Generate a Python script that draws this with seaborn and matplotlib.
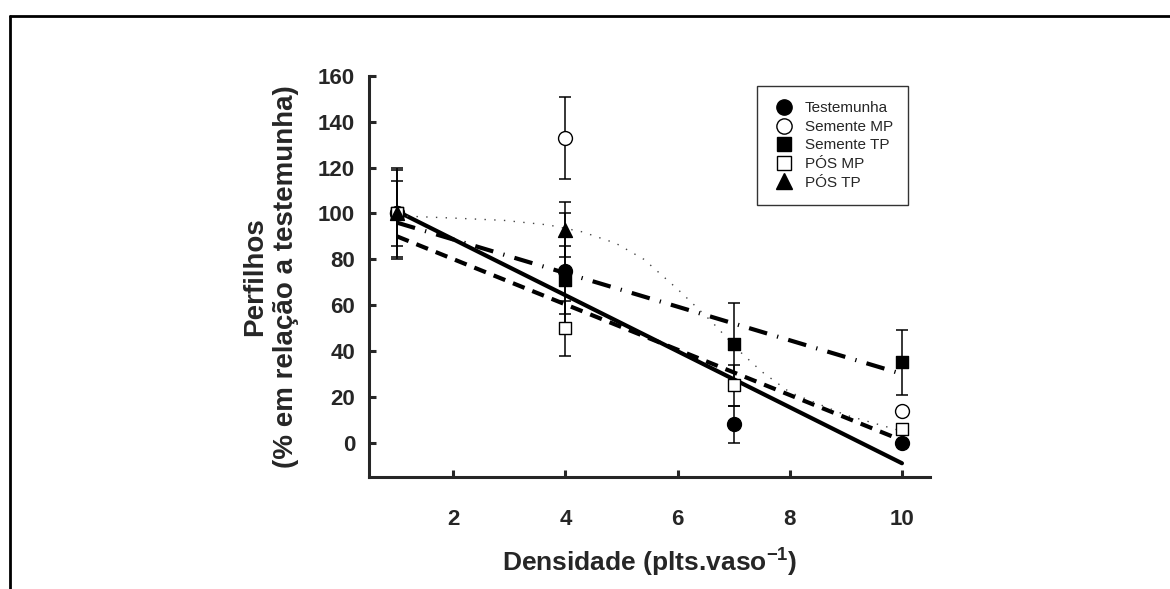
import numpy as np
import pandas as pd
import matplotlib
matplotlib.use("Agg")
import matplotlib.pyplot as plt
from matplotlib.lines import Line2D
import seaborn as sns

# dados
densidade = [1, 4, 7, 10]
testemunha = [100, 75, 8, 0]
testemunha_err = [20, 25, 8, 0]
semente_mp = [100, 133, np.nan, 14]
semente_mp_err = [19, 18, np.nan, 0]
semente_tp = [100, 71, 43, 35]
semente_tp_err = [14, 15, 18, 14]
pos_mp = [100, 50, 25, 6]
pos_mp_err = [0, 12, 9, 0]
pos_tp = [100, 93, np.nan, np.nan]
pos_tp_err = [0, 12, np.nan, np.nan]

# curvas ajustadas
fit_x = [1, 10]
testemunha_fit = [101, -9]
semente_tp_fit = [96, 30]
pos_mp_fit = [90, 1]
curva_x = [1, 2, 2.9, 3.7, 4.3, 4.9, 5.4, 6.0, 6.6, 7.1, 7.5, 8, 9, 10]
curva_y = [99, 98, 97, 95, 92, 87, 80, 67, 53, 40, 31, 22, 12, 5]

sns.set_style("ticks")
plt.rcParams['font.family'] = ['Liberation Sans', 'DejaVu Sans']
plt.rcParams['mathtext.fontset'] = 'custom'
plt.rcParams['mathtext.rm'] = 'Liberation Sans:bold'
plt.rcParams['mathtext.bf'] = 'Liberation Sans:bold'

fig = plt.figure(figsize=(11.7, 5.89), dpi=100)
ax = fig.add_axes([369 / 1170, 1 - 477 / 589, (930 - 369) / 1170, (477 - 76) / 589])

# moldura externa
fig.add_artist(Line2D([10 / 1170, 10 / 1170], [0, 1 - 16 / 589], transform=fig.transFigure, color='k', lw=2))
fig.add_artist(Line2D([10 / 1170, 1], [1 - 16 / 589, 1 - 16 / 589], transform=fig.transFigure, color='k', lw=2))

# linhas de ajuste
sns.lineplot(x=fit_x, y=testemunha_fit, ax=ax, color='k', lw=3, zorder=2)
sns.lineplot(x=fit_x, y=pos_mp_fit, ax=ax, color='k', lw=3, zorder=2).lines[-1].set_dashes((3, 2))
sns.lineplot(x=fit_x, y=semente_tp_fit, ax=ax, color='k', lw=3, zorder=2).lines[-1].set_dashes((4.5, 2.5, 0.3, 2.5))
sns.lineplot(x=curva_x, y=curva_y, ax=ax, color='#444444', lw=1, zorder=2).lines[-1].set_dashes((1, 6))

series = [
    ("Testemunha", testemunha, testemunha_err, 'o', 'k', 100),
    ("Semente MP", semente_mp, semente_mp_err, 'o', 'white', 100),
    ("Semente TP", semente_tp, semente_tp_err, 's', 'k', 80),
    ("PÓS MP", pos_mp, pos_mp_err, 's', 'white', 80),
    ("PÓS TP", pos_tp, pos_tp_err, '^', 'k', 100),
]

handles = []
for i, (nome, y, err, mk, fc, s) in enumerate(series):
    ax.errorbar(densidade, y, yerr=err, fmt='none', ecolor='k', elinewidth=1.1,
                capsize=4.5, capthick=1.1, zorder=3)
    sns.scatterplot(x=densidade, y=y, ax=ax, marker=mk, s=s, color=fc,
                    edgecolor='k', linewidth=1, zorder=4 + i)
    handles.append(Line2D([], [], ls='none', marker=mk, markersize=np.sqrt(s) * 1.1,
                          markerfacecolor=fc, markeredgecolor='k', markeredgewidth=1,
                          label=nome))

ax.set_xlim(0.5, 10.5)
ax.set_ylim(-15, 160)
ax.set_xticks([2, 4, 6, 8, 10])
ax.set_yticks([0, 20, 40, 60, 80, 100, 120, 140, 160])
sns.despine(ax=ax)
for sp in ['left', 'bottom']:
    ax.spines[sp].set_linewidth(2.2)
ax.tick_params(axis='both', direction='in', length=5, width=2.2, labelsize=16)
ax.tick_params(axis='x', pad=23)
ax.tick_params(axis='y', pad=10)
for lab in ax.get_xticklabels() + ax.get_yticklabels():
    lab.set_fontweight('bold')

ax.set_xlabel("Densidade (plts.vaso$^{\\mathrm{-1}}$)", fontsize=19, fontweight='bold', labelpad=11)
ax.set_ylabel("Perfilhos\n(% em relação a testemunha)", fontsize=20, fontweight='bold', labelpad=14)

leg = ax.legend(handles=handles, loc='upper right', bbox_to_anchor=(908 / 1170, 1 - 86 / 589),
                bbox_transform=fig.transFigure, borderaxespad=0, fontsize=11,
                frameon=True, fancybox=False, edgecolor='k', handletextpad=0.6,
                labelspacing=0.3, borderpad=1.0, handlelength=1.5)
leg.get_frame().set_linewidth(1)

fig.savefig("out.png", dpi=100)
